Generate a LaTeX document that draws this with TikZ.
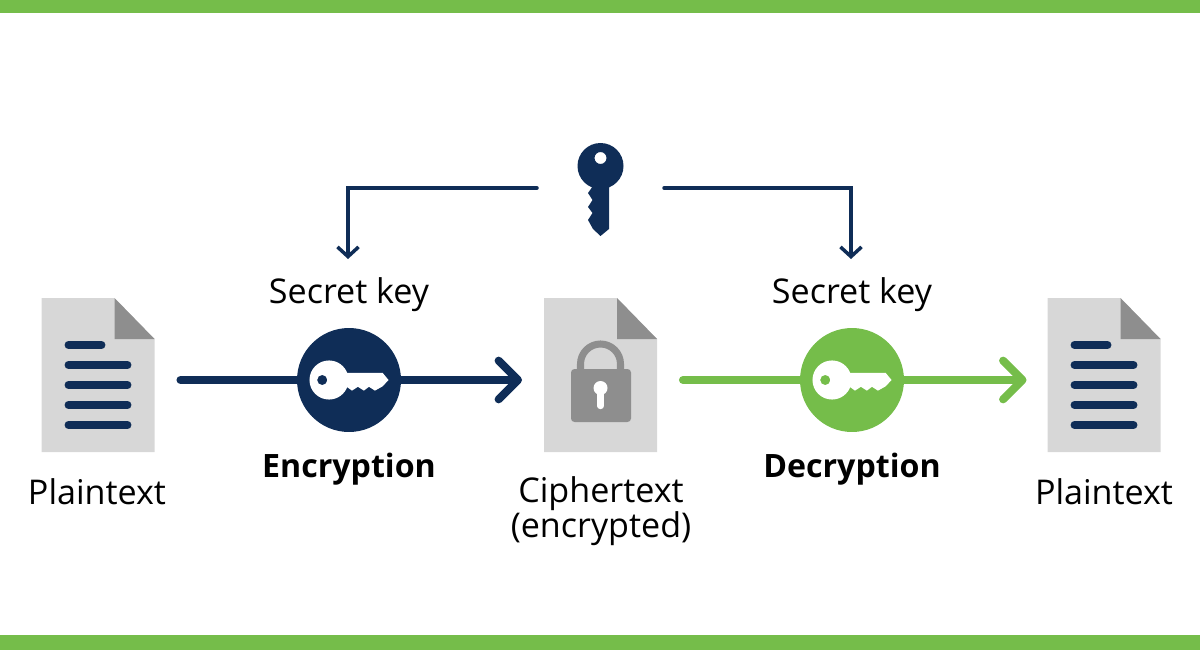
\documentclass[tikz,border=0pt]{standalone}
\usepackage{fontspec}
\setmainfont{Open Sans}
\usetikzlibrary{arrows.meta}
\definecolor{navy}{HTML}{0F2D57}
\definecolor{leaf}{HTML}{75BD4A}
\definecolor{paper}{HTML}{D7D7D7}
\definecolor{fold}{HTML}{8E8E8E}
\tikzset{
  x=.02cm,y=.02cm,
  every node/.style={inner sep=0pt,outer sep=0pt},
  caption/.style={font=\fontsize{19.4}{19.8}\selectfont,align=center},
  heavy/.style={line width=4.6pt,line cap=round,#1},
  heavytip/.style={heavy=#1,-{Straight Barb[round,length=11pt,width=22pt]}},
  thinarrow/.style={navy,line width=2pt,line cap=round,-{Straight Barb[length=5.5pt,width=12pt]}}
}
\newcommand{\sheet}{%
   \fill [paper] (0,0) -- (0,154) -- (73,154) -- (113,113) -- (113,0) -- cycle;%
   \fill [fold] (73,154) -- (113,113) -- (73,113) -- cycle;%
}
\newcommand{\plaindoc}[2]{%
 \node ({#1}) at ({#2}) {%
  \begin{tikzpicture}%
   \sheet%
   \draw [navy,line width=4.5pt,line cap=round] (27,107) -- (60,107);%
   \foreach \y in {87,67,47,27} {\draw [navy,line width=4.5pt,line cap=round] (27,\y) -- (86,\y);}%
  \end{tikzpicture}%
 } %
}
\newcommand{\lockdoc}[2]{%
 \node ({#1}) at ({#2}) {%
  \begin{tikzpicture}%
   \sheet%
   \draw [fold,line width=4pt] (36.5,75) -- (36.5,88) arc (180:0:20) -- (76.5,75);%
   \fill [fold,rounded corners=2pt] (27,30) rectangle (87,83);%
   \fill [white] (56.5,64) circle (7);%
   \draw [white,line width=3.6pt,line cap=round] (56.5,62) -- (56.5,46);%
  \end{tikzpicture}%
 } %
}
\newcommand{\keyshape}{%
   \fill [even odd rule] (0,0) circle (23) (0,8) circle (6);%
   \fill (8.5,-15) -- (8.5,-63) -- (0,-70) -- (-7.5,-63) -- (-12.5,-54) -- (-8,-47) -- (-12.5,-41) -- (-8,-34) -- (-12.5,-27) -- (-7.5,-20) -- (-7.5,-15) -- cycle;%
}
\newcommand{\keycircle}[3]{%
 \node ({#1}) [circle,fill={#3},minimum size=2.08cm] at ({#2}) {%
  \begin{tikzpicture}[rotate=90,scale=.85]%
   \begin{scope}[white]\keyshape\end{scope}%
  \end{tikzpicture}%
 } %
}
\begin{document}
\begin{tikzpicture}
  \useasboundingbox (0,0) rectangle (1200,650);
  \fill[leaf] (0,637) rectangle (1200,650);
  \fill[leaf] (0,0) rectangle (1200,15);
  \plaindoc{d1}{98,275};
  \lockdoc{d2}{600.5,275};
  \plaindoc{d3}{1104,275};
  \keycircle{enc}{349,270}{navy};
  \keycircle{dec}{852,270}{leaf};
  \node (key) [navy] at (600.5,460.5) {\begin{tikzpicture}\keyshape\end{tikzpicture}};
  \node (s1) [caption] at (349,355) {Secret key};
  \node (s2) [caption] at (852,355) {Secret key};
  \node (l1) [caption,font=\fontsize{18.3}{19.8}\selectfont\bfseries] at (349,181) {Encryption};
  \node (l2) [caption,font=\fontsize{18.3}{19.8}\selectfont\bfseries] at (852,181) {Decryption};
  \node (t1) [caption] at (97,158) {Plaintext};
  \node (t2) [caption] at (601,139) {Ciphertext\\(encrypted)};
  \node (t3) [caption] at (1104,158) {Plaintext};
  \coordinate (kl) at (537,462);
  \coordinate (kr) at (664,462);
  \coordinate (al) at (348,391);
  \coordinate (ar) at (851,391);
  \draw[heavy=navy,shorten <=.52cm] (d1.east |- enc.west) -- (enc.west);
  \draw[heavytip=navy,shorten >=.44cm] (enc.east) -- (d2.west |- enc.east);
  \draw[heavy=leaf,shorten <=.52cm] (d2.east |- dec.west) -- (dec.west);
  \draw[heavytip=leaf,shorten >=.42cm] (dec.east) -- (d3.west |- dec.east);
  \draw[thinarrow] (kl) -| (al);
  \draw[thinarrow] (kr) -| (ar);
\end{tikzpicture}
\end{document}
